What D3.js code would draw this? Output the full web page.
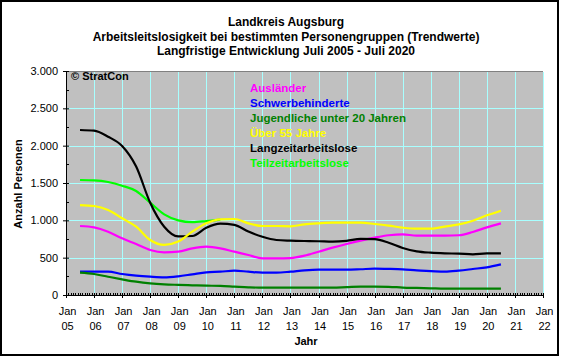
<!DOCTYPE html>
<html><head><meta charset="utf-8">
<script src="https://cdn.jsdelivr.net/npm/d3@7"></script>
<style>
html,body{margin:0;padding:0;background:#fff;}
svg{display:block;font-family:"Liberation Sans",Arial,sans-serif;}
</style></head>
<body><svg id="c" width="563" height="358"></svg>
<script>
// ---- data ----
const titleLines = ["Landkreis Augsburg","Arbeitsleitslosigkeit bei bestimmten Personengruppen (Trendwerte)","Langfristige Entwicklung Juli 2005 - Juli 2020"];
const halfYears = [2005.5,2006,2006.5,2007,2007.5,2008,2008.5,2009,2009.5,2010,2010.5,2011,2011.5,2012,2012.5,2013,2013.5,2014,2014.5,2015,2015.5,2016,2016.5,2017,2017.5,2018,2018.5,2019,2019.5,2020,2020.5];
const auslaender = [924,906,848,759,683,603,572,580,625,647,625,580,536,491,491,495,527,580,634,683,728,768,800,813,795,795,795,800,844,906,960];
const schwerbehinderte = [312,312,312,281,259,245,236,250,277,304,312,326,312,299,299,312,330,339,339,339,345,353,350,344,330,321,312,326,348,371,411];
const jugendliche = [299,281,245,210,178,156,143,136,130,125,121,112,103,98,98,98,98,98,98,105,112,112,110,100,95,90,85,85,85,85,85];
const ueber55 = [1205,1192,1138,1027,915,737,670,715,848,960,1013,1018,960,924,924,920,946,960,969,969,969,951,929,902,888,888,915,946,995,1067,1129];
const langzeit = [2210,2201,2120,1995,1720,1236,915,785,790,900,955,940,850,780,737,728,723,720,714,725,752,748,700,630,585,567,558,554,545,558,558];
const teilzeit = [1540,1535,1513,1464,1393,1236,1080,1000,975,990,1010,null,null,null,null,null,null,null,null,null,null,null,null,null,null,null,null,null,null,null,null];
const seriesNames = ["Ausländer","Schwerbehinderte","Jugendliche unter 20 Jahren","Über 55 Jahre","Langzeitarbeitslose","Teilzeitarbeitslose"];
const seriesColors = ["#ff00ff","#0000ff","#008000","#ffff00","#000000","#00ff00"];
const seriesValues = [auslaender,schwerbehinderte,jugendliche,ueber55,langzeit,teilzeit];
const drawOrder = [5,0,1,2,4,3];
const yTicks = [0,500,1000,1500,2000,2500,3000];
const xTickYears = d3.range(2005,2023);

// ---- layout ----
const svg = d3.select("#c");
const L=66, R=543, T=71, B=295;
const x = d3.scaleLinear().domain([2005,2022]).range([L,R]);
const y = d3.scaleLinear().domain([0,3000]).range([B,T]);
const fmt = v => d3.format(",")(v).replace(/,/g,".");

// outer frame
svg.append("rect").attr("x",1).attr("y",1).attr("width",557).attr("height",354)
  .attr("fill","#fff").attr("stroke","#000").attr("stroke-width",2);

// titles
titleLines.forEach((t,i)=>{
  svg.append("text").attr("x",286).attr("y",26+i*14.5).attr("text-anchor","middle")
    .attr("font-size","12px").attr("font-weight","bold").text(t);
});

// plot background
svg.append("rect").attr("x",L).attr("y",T).attr("width",R-L).attr("height",B-T).attr("fill","#c0c0c0");
svg.append("line").attr("x1",L).attr("x2",R).attr("y1",T+0.5).attr("y2",T+0.5).attr("stroke","#808080");

// grid
const grid = svg.append("g").attr("stroke","#a8ffff").attr("stroke-width",1);
yTicks.filter(v=>v>0&&v<3000).forEach(v=>{
  grid.append("line").attr("x1",L).attr("x2",R).attr("y1",Math.round(y(v))+0.5).attr("y2",Math.round(y(v))+0.5);
});
xTickYears.filter(v=>v>2005).forEach(v=>{
  grid.append("line").attr("x1",Math.round(x(v))+0.5).attr("x2",Math.round(x(v))+0.5).attr("y1",T+1).attr("y2",B);
});

// lines
const line = d3.line().defined(d=>d[1]!=null).x(d=>x(d[0])).y(d=>y(d[1])).curve(d3.curveMonotoneX);
drawOrder.forEach(i=>{
  const pts = halfYears.map((yr,j)=>[yr,seriesValues[i][j]]);
  svg.append("path").datum(pts).attr("d",line).attr("fill","none")
    .attr("stroke",seriesColors[i]).attr("stroke-width",2.2);
});

// axes
const yAxis = d3.axisLeft(y).tickValues(yTicks).tickFormat(fmt).tickSize(3).tickPadding(5);
const gy = svg.append("g").attr("transform",`translate(${L},0)`).call(yAxis);
gy.select(".domain").remove();
gy.selectAll(".tick line").attr("x2",-3).attr("x1",3);
gy.selectAll("text").attr("font-size","11px").attr("font-family","Liberation Sans, Arial, sans-serif").attr("fill","#000");
svg.append("line").attr("x1",L+0.5).attr("x2",L+0.5).attr("y1",T).attr("y2",B+1).attr("stroke","#000");
// minor y ticks
d3.range(250,3000,500).forEach(v=>{
  svg.append("line").attr("x1",L).attr("x2",L+3).attr("y1",Math.round(y(v))+0.5).attr("y2",Math.round(y(v))+0.5).attr("stroke","#000");
});

// x axis
svg.append("line").attr("x1",L).attr("x2",R+1).attr("y1",B+0.5).attr("y2",B+0.5).attr("stroke","#000");
const months = d3.range(2005,2022+1e-9,1/12);
months.forEach(m=>{
  const px = Math.round(x(m))+0.5;
  const major = Math.abs(m-Math.round(m))<1e-6;
  svg.append("line").attr("x1",px).attr("x2",px).attr("y1",B-2).attr("y2",major?B+3:B+0.5).attr("stroke","#000");
});
const xAxis = d3.axisBottom(x).tickValues(xTickYears).tickSize(0).tickFormat(()=>"");
svg.append("g").attr("transform",`translate(0,${B})`).call(xAxis).select(".domain").remove();
xTickYears.forEach(v=>{
  const g = svg.append("text").attr("text-anchor","middle").attr("font-size","11px");
  g.append("tspan").attr("x",x(v)+1.5).attr("y",315).text("Jan");
  g.append("tspan").attr("x",x(v)+1.5).attr("y",330).text(String(v%100).padStart(2,"0"));
});

// axis titles
svg.append("text").attr("x",306).attr("y",345).attr("text-anchor","middle").attr("font-size","11px").attr("font-weight","bold").text("Jahr");
svg.append("text").attr("transform","translate(22,184) rotate(-90)").attr("text-anchor","middle").attr("font-size","11px").attr("font-weight","bold").text("Anzahl Personen");

// copyright
svg.append("text").attr("x",71).attr("y",80).attr("font-size","11px").attr("font-weight","bold").text("© StratCon");

// legend
seriesNames.forEach((n,i)=>{
  svg.append("text").attr("x",250).attr("y",92+i*15).attr("font-size","11.5px").attr("font-weight","bold")
    .attr("fill",seriesColors[i]).text(n);
});
</script></body></html>
